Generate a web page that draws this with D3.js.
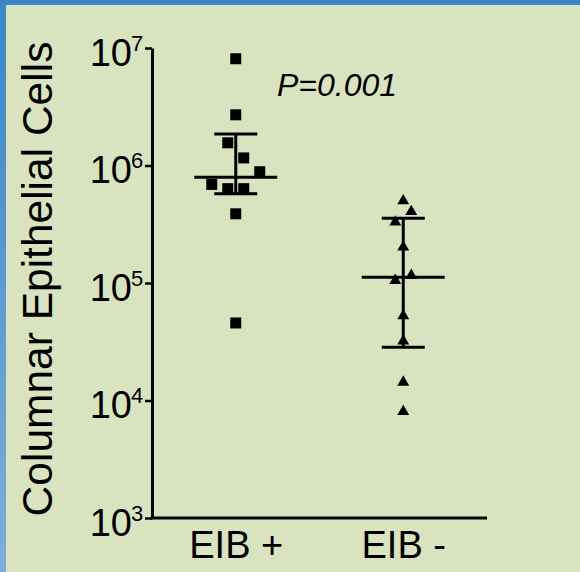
<!DOCTYPE html>
<html>
<head>
<meta charset="utf-8">
<script src="https://cdn.jsdelivr.net/npm/d3@7"></script>
<style>
  html, body { margin: 0; padding: 0; background: #d9e3c0; }
  svg { display: block; }
  text { font-family: "Liberation Sans", Arial, Helvetica, sans-serif; fill: #000; }
</style>
</head>
<body>
<svg id="chart" width="580" height="572"></svg>
<script>
// Groups on the x axis
const groups = ["EIB +", "EIB -"];

// Cell counts per subject (EIB +), with lane index for horizontal spreading
const eibPosValues = [8.1e6, 2.7e6, 1.56e6, 1.16e6, 8.85e5, 6.9e5, 6.35e5, 6.35e5, 3.88e5, 4.57e4];
const eibPosLanes  = [0, 0, -0.5, 0.5, 1.5, -1.5, -0.5, 0.5, 0, 0];

// Cell counts per subject (EIB -)
const eibNegValues = [5.0e5, 4.05e5, 3.3e5, 2.02e5, 1.16e5, 1.05e5, 5.26e4, 3.2e4, 1.43e4, 8.04e3];
const eibNegLanes  = [0, 0.5, -0.5, 0, 0.5, -0.5, 0, 0, 0, 0];

// Median and interquartile range per group: [median, lower, upper]
const eibPosSummary = [7.94e5, 5.75e5, 1.85e6];
const eibNegSummary = [1.12e5, 2.84e4, 3.56e5];

// Axis ticks (decades) and annotation
const yTicks = [1e3, 1e4, 1e5, 1e6, 1e7];
const pLabel = "P=0.001";

const svg = d3.select("#chart");
const W = 580, H = 572;

// Frame: light background with a blue edge along top and left
const defs = svg.append("defs");
const grad = defs.append("linearGradient").attr("id", "edge")
  .attr("x1", 0).attr("y1", 0).attr("x2", 0).attr("y2", 1);
grad.append("stop").attr("offset", "0%").attr("stop-color", "#3a87c7");
grad.append("stop").attr("offset", "100%").attr("stop-color", "#7eaedb");
svg.append("rect").attr("width", W).attr("height", H).attr("fill", "#d9e3c0");
svg.append("rect").attr("x", 0).attr("y", 0).attr("width", 6).attr("height", H).attr("fill", "url(#edge)");
svg.append("rect").attr("x", 0).attr("y", 0).attr("width", W).attr("height", 5).attr("fill", "#3a87c7");

// Plot area
const plotLeft = 152, plotRight = 487, plotTop = 48, plotBottom = 518;

const y = d3.scaleLog().domain([1e3, 1e7]).range([plotBottom, plotTop]);
const x = d3.scalePoint().domain(groups).range([plotLeft, plotRight]).padding(0.5);
const laneStep = 16;

// Y axis
const yAxis = svg.append("g")
  .attr("transform", `translate(${plotLeft},0)`)
  .call(d3.axisLeft(y).tickValues(yTicks).tickSize(7).tickSizeOuter(0).tickFormat(""));
yAxis.select(".domain").attr("stroke", "#000").attr("stroke-width", 3);
yAxis.selectAll(".tick line").attr("stroke", "#000").attr("stroke-width", 2.5);
yAxis.selectAll(".tick").each(function(d) {
  const g = d3.select(this);
  g.select("text").remove();
  g.append("text")
    .attr("x", -20).attr("y", 17)
    .attr("text-anchor", "end")
    .style("font-size", "38px")
    .text("10");
  g.append("text")
    .attr("x", -21).attr("y", 2)
    .attr("text-anchor", "start")
    .style("font-size", "22px")
    .text(Math.round(Math.log10(d)));
});

// X axis
const xAxis = svg.append("g")
  .attr("transform", `translate(0,${plotBottom})`)
  .call(d3.axisBottom(x).tickSize(0).tickSizeOuter(0).tickPadding(0));
xAxis.select(".domain").attr("stroke", "#000").attr("stroke-width", 3)
  .attr("d", `M${plotLeft - 1.5},0H${plotRight}`);
xAxis.selectAll(".tick text")
  .attr("y", 40).attr("dy", 0)
  .style("font-size", "38px")
  .style("font-family", "\"Liberation Sans\", Arial, sans-serif");

// Y axis title
svg.append("text")
  .attr("transform", `translate(52,279) rotate(-90)`)
  .attr("text-anchor", "middle")
  .style("font-size", "42.5px")
  .text("Columnar Epithelial Cells");

// Median and IQR bars
function drawSummary(group, s) {
  const cx = x(group);
  const g = svg.append("g").attr("stroke", "#000").attr("stroke-width", 3);
  g.append("line").attr("x1", cx).attr("x2", cx).attr("y1", y(s[2])).attr("y2", y(s[1]));
  g.append("line").attr("x1", cx - 41.5).attr("x2", cx + 41.5).attr("y1", y(s[0])).attr("y2", y(s[0]));
  g.append("line").attr("x1", cx - 21.5).attr("x2", cx + 21.5).attr("y1", y(s[2])).attr("y2", y(s[2]));
  g.append("line").attr("x1", cx - 21.5).attr("x2", cx + 21.5).attr("y1", y(s[1])).attr("y2", y(s[1]));
}

// Individual points
function drawPoints(group, values, lanes, symbolType, size) {
  const sym = d3.symbol().type(symbolType).size(size);
  svg.append("g").selectAll("path")
    .data(values.map((v, i) => ({ v, lane: lanes[i] })))
    .join("path")
    .attr("d", sym)
    .attr("fill", "#000")
    .attr("transform", d => `translate(${x(group) + d.lane * laneStep},${y(d.v)})`);
}

drawPoints(groups[0], eibPosValues, eibPosLanes, d3.symbolSquare, 121);
drawPoints(groups[1], eibNegValues, eibNegLanes, d3.symbolTriangle, 62);
drawSummary(groups[0], eibPosSummary);
drawSummary(groups[1], eibNegSummary);

// Significance annotation
svg.append("text")
  .attr("x", 277).attr("y", 96)
  .style("font-size", "32px")
  .style("font-style", "italic")
  .text(pLabel);
</script>
</body>
</html>
